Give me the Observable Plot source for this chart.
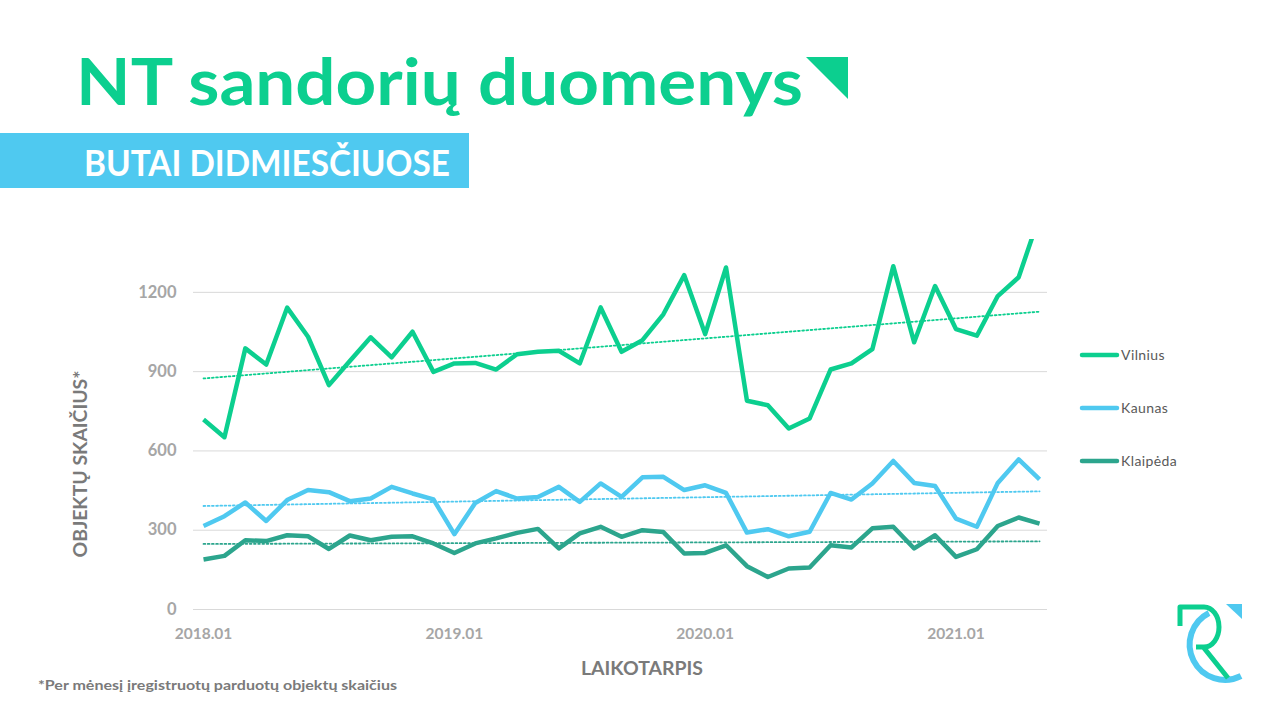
<!DOCTYPE html>
<html>
<head>
<meta charset="utf-8">
<script src="https://cdn.jsdelivr.net/npm/d3@7"></script>
<script src="https://cdn.jsdelivr.net/npm/@observablehq/plot@0.6"></script>
<style>
  html, body { margin: 0; padding: 0; background: #ffffff; }
  #page { position: relative; width: 1280px; height: 720px; overflow: hidden; background: #fff; font-family: Lato, "Open Sans", sans-serif; }
  #deco { position: absolute; left: 0; top: 0; }
  #chart { position: absolute; left: 0; top: 220px; }
</style>
</head>
<body>
<div id="page">
  <svg id="deco" width="1280" height="720"></svg>
  <div id="chart"></div>
</div>
<script>
// ---- Data (monthly, 2018.01 – 2021.05) ----
const seriesNames = ["Vilnius", "Kaunas", "Klaipėda"];
const seriesColors = ["#0ccf8f", "#4fc9f0", "#2ca58d"];
const vilnius = [719,652,988,927,1142,1032,849,940,1030,954,1051,899,931,933,908,966,975,979,931,1143,975,1019,1117,1265,1042,1294,790,773,685,723,908,931,985,1299,1011,1224,1061,1036,1186,1257,1490];
const kaunas = [316,353,405,335,414,452,444,410,420,464,439,417,285,403,448,420,426,464,407,477,426,500,502,452,470,441,291,304,277,294,441,416,477,562,479,467,344,313,479,568,492];
const klaipeda = [189,203,262,259,281,277,229,280,262,275,277,250,214,250,269,290,305,231,288,313,275,300,293,212,214,243,164,123,155,159,243,235,307,313,231,281,199,228,316,348,325];
const xTickMonths = [0, 12, 24, 36];
const xTickLabels = ["2018.01", "2019.01", "2020.01", "2021.01"];
const yTicks = [0, 300, 600, 900, 1200];

const title = "NT sandorių duomenys";
const subtitle = "BUTAI DIDMIESČIUOSE";
const yLabel = "OBJEKTŲ SKAIČIUS*";
const xLabel = "LAIKOTARPIS";
const footnote = "*Per mėnesį įregistruotų parduotų objektų skaičius";

// ---- Build table ----
const valuesBySeries = [vilnius, kaunas, klaipeda];
const rows = [];
valuesBySeries.forEach((arr, s) => arr.forEach((v, i) => rows.push({ i, v, s: seriesNames[s] })));

const chart = Plot.plot({
  width: 1280,
  height: 440,
  marginTop: 19,
  marginBottom: 51,
  marginLeft: 193,
  marginRight: 233,
  style: { fontFamily: "Lato, 'Open Sans', sans-serif", fontWeight: 700, background: "transparent", overflow: "visible" },
  x: { domain: [-0.48, 40.38], axis: null },
  y: { domain: [0, 1400], axis: null },
  color: { domain: seriesNames, range: seriesColors },
  marks: [
    Plot.gridY(yTicks, { stroke: "#d9d9d9", strokeOpacity: 1, strokeWidth: 1 }),
    Plot.axisY({ ticks: yTicks, tickFormat: d => String(d), tickSize: 0, tickPadding: 17, fontSize: 16.5, color: "#a6a6a6", label: null }),
    Plot.axisX({ ticks: xTickMonths, tickFormat: d => xTickLabels[xTickMonths.indexOf(d)], tickSize: 0, tickPadding: 18, fontSize: 15.5, color: "#a6a6a6", label: null }),
    Plot.linearRegressionY(rows, { x: "i", y: "v", stroke: "s", ci: 0, strokeWidth: 1.8, strokeDasharray: "1.8 2.4" }),
    Plot.line(rows, { x: "i", y: "v", z: "s", stroke: "s", strokeWidth: 4.5, strokeLinejoin: "round", strokeLinecap: "butt", clip: true })
  ]
});
document.getElementById("chart").appendChild(chart);

// ---- Decorations (title, subtitle, axis titles, legend, logo) ----
const deco = d3.select("#deco");
const font = "Lato, 'Open Sans', sans-serif";

deco.append("text").attr("x", 76).attr("y", 105).attr("font-family", font).attr("font-weight", 700)
  .attr("font-size", 65).attr("fill", "#0ccf8f").attr("textLength", 727).attr("lengthAdjust", "spacingAndGlyphs").text(title);
deco.append("path").attr("d", "M806 57 L848 57 L848 99 Z").attr("fill", "#0ccf8f");

deco.append("rect").attr("x", 0).attr("y", 133).attr("width", 469).attr("height", 55).attr("fill", "#4fc9f0");
deco.append("text").attr("x", 84).attr("y", 176).attr("font-family", font).attr("font-weight", 700)
  .attr("font-size", 36).attr("fill", "#ffffff").attr("textLength", 366).attr("lengthAdjust", "spacingAndGlyphs").text(subtitle);

deco.append("text").attr("transform", "translate(87,464) rotate(-90)").attr("text-anchor", "middle")
  .attr("font-family", font).attr("font-weight", 700).attr("font-size", 18).attr("fill", "#7a7a7a")
  .attr("textLength", 187).attr("lengthAdjust", "spacingAndGlyphs").text(yLabel);

deco.append("text").attr("x", 642).attr("y", 675).attr("text-anchor", "middle")
  .attr("font-family", font).attr("font-weight", 700).attr("font-size", 19).attr("fill", "#7a7a7a")
  .attr("textLength", 122).attr("lengthAdjust", "spacingAndGlyphs").text(xLabel);

deco.append("text").attr("x", 38).attr("y", 690)
  .attr("font-family", font).attr("font-weight", 700).attr("font-size", 14).attr("fill", "#7a7a7a")
  .attr("textLength", 359).attr("lengthAdjust", "spacingAndGlyphs").text(footnote);

// legend
seriesNames.forEach((name, k) => {
  const y = 355 + k * 53;
  deco.append("line").attr("x1", 1082).attr("x2", 1117).attr("y1", y).attr("y2", y)
    .attr("stroke", seriesColors[k]).attr("stroke-width", 4.5).attr("stroke-linecap", "round");
  deco.append("text").attr("x", 1121).attr("y", y + 5).attr("font-family", font)
    .attr("font-size", 14).attr("fill", "#595959").attr("letter-spacing", 0.4).text(name);
});

// logo
deco.append("path").attr("d", "M1209 613 A33 33 0 1 0 1241 676")
  .attr("fill", "none").attr("stroke", "#4fc9f0").attr("stroke-width", 6);
deco.append("path").attr("d", "M1226 604 L1242 604 L1242 619 Z").attr("fill", "#4fc9f0");
deco.append("path").attr("d", "M1180 626 L1180 607 L1204 607 A15 20 0 0 1 1204 647 L1196 647 M1204 648 L1228 678")
  .attr("fill", "none").attr("stroke", "#0ccf8f").attr("stroke-width", 5).attr("stroke-linejoin", "round");
</script>
</body>
</html>
